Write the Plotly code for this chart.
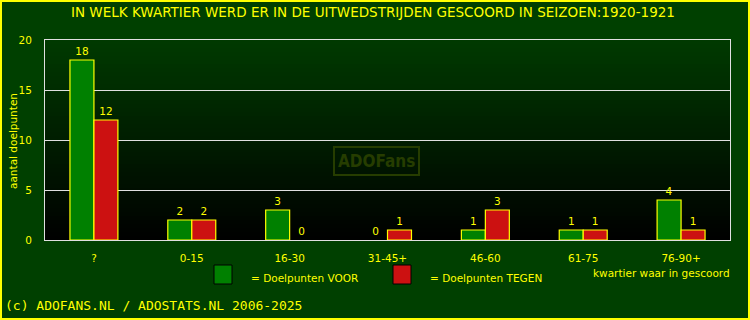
import plotly.graph_objects as go

categories = ["?", "0-15", "16-30", "31-45+", "46-60", "61-75", "76-90+"]
voor = [18, 2, 3, 0, 1, 1, 4]
tegen = [12, 2, 0, 1, 3, 1, 1]
series_names = ["= Doelpunten VOOR", "= Doelpunten TEGEN"]
y_ticks = [0, 5, 10, 15, 20]
title_text = "IN WELK KWARTIER WERD ER IN DE UITWEDSTRIJDEN GESCOORD IN SEIZOEN:1920-1921"
y_title = "aantal doelpunten"
x_title = "kwartier waar in gescoord"
footer = "(c) ADOFANS.NL / ADOSTATS.NL 2006-2025"

W, H = 750, 320
L, R, T, B = 45, 20, 40, 80
PW, PH = W - L - R, H - T - B

def px(x):
    return (x - L) / PW

def py(y):
    return (H - B - y) / PH

YEL = "#ffff00"
GREEN = "#008000"
RED = "#cc1111"
PAPER = "#004000"
FONT = "DejaVu Sans, sans-serif"
FS = 10.5

fig = go.Figure()
for vals, name, col in ((voor, series_names[0], GREEN), (tegen, series_names[1], RED)):
    fig.add_trace(go.Bar(x=categories, y=vals, name=name,
                         marker=dict(color=col, line=dict(color=YEL, width=[1.2 if v > 0 else 0 for v in vals])),
                         text=[str(v) for v in vals], textposition="outside", cliponaxis=False,
                         textfont=dict(color=YEL, size=FS, family=FONT)))

shapes = []
# gradient background of plot area
N = 50
top = (0, 58, 0)
bot = (0, 0, 0)
for i in range(N):
    f = (i + 0.5) / N  # 0 bottom, 1 top
    c = tuple(int(round(bot[k] + (top[k] - bot[k]) * f)) for k in range(3))
    shapes.append(dict(type="rect", xref="x domain", yref="y domain", x0=0, x1=1, y0=i / N, y1=(i + 1) / N,
                       fillcolor="rgb(%d,%d,%d)" % c, line=dict(width=0), layer="below"))
# outer yellow border
shapes.append(dict(type="rect", xref="paper", yref="paper", x0=px(1), x1=px(749), y0=py(319), y1=py(1),
                   line=dict(color=YEL, width=2), fillcolor="rgba(0,0,0,0)", layer="above"))
# legend squares
shapes.append(dict(type="rect", xref="paper", yref="paper", x0=px(214), x1=px(232), y0=py(284), y1=py(265),
                   fillcolor=GREEN, line=dict(color="black", width=1)))
shapes.append(dict(type="rect", xref="paper", yref="paper", x0=px(393), x1=px(411), y0=py(284), y1=py(265),
                   fillcolor=RED, line=dict(color="black", width=1)))

annotations = [
    dict(text=title_text, xref="paper", yref="paper", x=px(373), y=py(12), xanchor="center", yanchor="middle",
         showarrow=False, font=dict(color=YEL, size=13.5, family=FONT)),
    dict(text=y_title, xref="paper", yref="paper", x=px(13), y=py(141), xanchor="center", yanchor="middle",
         textangle=-90, showarrow=False, font=dict(color=YEL, size=FS, family=FONT)),
    dict(text=series_names[0], xref="paper", yref="paper", x=px(249), y=py(278), xanchor="left", yanchor="middle",
         showarrow=False, font=dict(color=YEL, size=FS, family=FONT)),
    dict(text=series_names[1], xref="paper", yref="paper", x=px(428), y=py(278), xanchor="left", yanchor="middle",
         showarrow=False, font=dict(color=YEL, size=FS, family=FONT)),
    dict(text=x_title, xref="paper", yref="paper", x=px(591), y=py(273), xanchor="left", yanchor="middle",
         showarrow=False, font=dict(color=YEL, size=FS, family=FONT)),
    dict(text=footer, xref="paper", yref="paper", x=px(3), y=py(305), xanchor="left", yanchor="middle",
         showarrow=False, font=dict(color=YEL, size=13, family="DejaVu Sans Mono, monospace")),
    dict(text="<b>ADOFans</b>", xref="paper", yref="paper", x=px(376), y=py(161), xanchor="center", yanchor="middle",
         showarrow=False, font=dict(color="#263d00", size=17, family="DejaVu Sans Condensed, DejaVu Sans"),
         bordercolor="#263d00", borderwidth=2, borderpad=3),
]

fig.update_layout(
    width=W, height=H, margin=dict(l=L, r=R, t=T, b=B),
    paper_bgcolor=PAPER, plot_bgcolor="black",
    barmode="group", bargap=0.51, bargroupgap=0,
    showlegend=False, shapes=shapes, annotations=annotations,
    font=dict(family=FONT, color=YEL, size=FS),
)
fig.update_xaxes(showgrid=False, showline=True, linecolor="#e0e0e0", linewidth=1, mirror=True,
                 tickfont=dict(color=YEL, size=FS, family=FONT), ticks="", ticklabelstandoff=8)
fig.update_yaxes(range=[0, 20], tickvals=y_ticks, showgrid=True, gridcolor="#e0e0e0", gridwidth=1,
                 showline=True, linecolor="#e0e0e0", linewidth=1, mirror=True, zeroline=False,
                 tickfont=dict(color=YEL, size=FS, family=FONT), ticks="", ticklabelstandoff=10)

fig.write_html("out.html")
